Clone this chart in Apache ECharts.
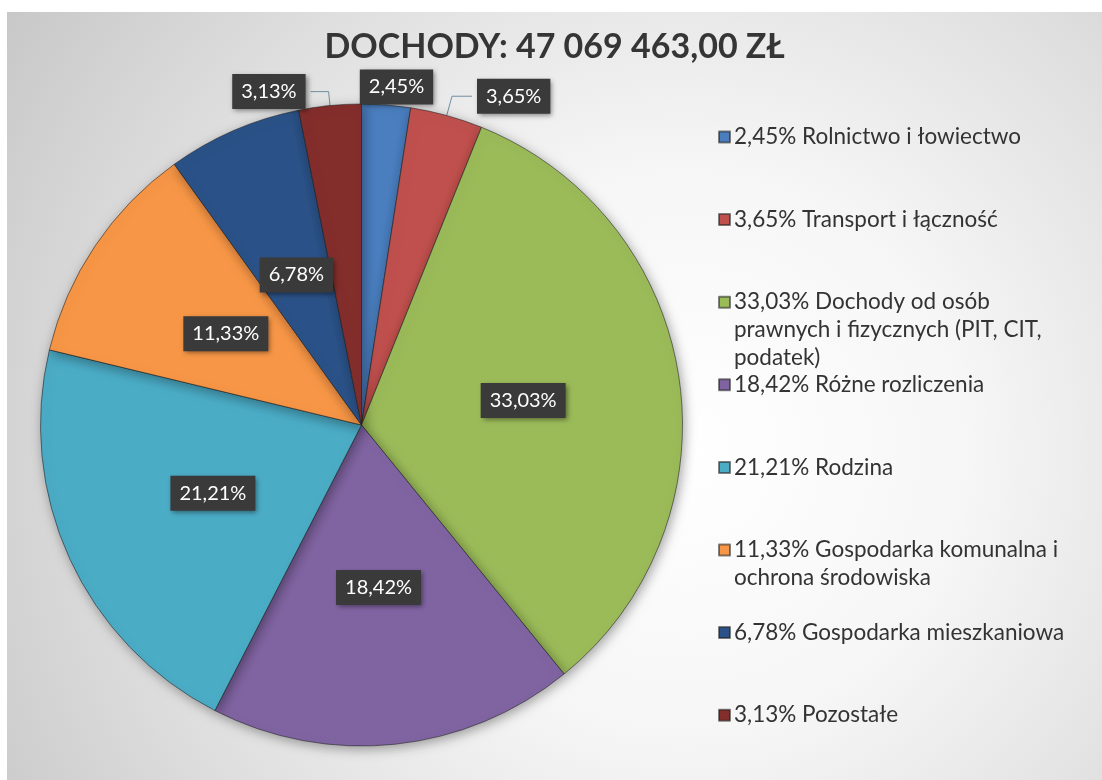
<!DOCTYPE html>
<html>
<head>
<meta charset="utf-8">
<script src="https://cdn.jsdelivr.net/npm/echarts@6/dist/echarts.min.js"></script>
<style>
  html, body { margin: 0; padding: 0; background: #ffffff; }
  #chart { position: absolute; left: 7px; top: 12px; width: 1095px; height: 768px; }
</style>
</head>
<body>
<div id="chart"></div>
<script>
// ---- data ----
const titleText = 'DOCHODY: 47 069 463,00 ZŁ';
const categories = [
  'Rolnictwo i łowiectwo',
  'Transport i łączność',
  'Dochody od osób\nprawnych i fizycznych (PIT, CIT,\npodatek)',
  'Różne rozliczenia',
  'Rodzina',
  'Gospodarka komunalna i\nochrona środowiska',
  'Gospodarka mieszkaniowa',
  'Pozostałe'
];
const values = [2.45, 3.65, 33.03, 18.42, 21.21, 11.33, 6.78, 3.13];
const colors = ['#4a7ebf', '#c0504d', '#9bbb59', '#8064a2', '#4bacc6', '#f79646', '#2b5288', '#842e2c'];
const outsideLabels = [0, 1, 7];

// ---- helpers ----
const fmt = v => v.toFixed(2).replace('.', ',') + '%';
const FONT = 'Lato';
const LH = 28;

const labelBox = {
  color: '#ffffff',
  fontFamily: FONT,
  fontSize: 20,
  backgroundColor: '#3a3a3a',
  padding: [8, 9, 7, 9],
  shadowBlur: 5,
  shadowColor: 'rgba(0,0,0,0.45)',
  shadowOffsetX: 2,
  shadowOffsetY: 2,
  formatter: p => fmt(p.value)
};

const outsideLen = { 0: [8, 0], 1: [20, 20], 7: [14, 18] };
const labelShift = { 0: { dx: -32, dy: -10 } };

const pieData = categories.map((name, i) => {
  const item = { name: name, value: values[i], itemStyle: { color: colors[i] } };
  if (outsideLabels.includes(i)) {
    item.label = { position: 'outside' };
    item.labelLine = { show: true, length: outsideLen[i][0], length2: outsideLen[i][1] };
  }
  return item;
});

const legends = categories.map((name, i) => {
  const n = name.split('\n').length;
  const blanks = n - 1;              // leading blank lines keep the icon on the first line
  const total = n + blanks;
  const center = 125 + i * 82.6;
  return {
    data: [name],
    orient: 'vertical',
    left: 711,
    top: center - total * LH / 2,
    padding: 0,
    icon: 'rect',
    itemWidth: 11,
    itemHeight: 11,
    itemGap: 0,
    selectedMode: false,
    textStyle: { fontFamily: FONT, fontSize: 22.5, color: '#333333', lineHeight: LH, padding: [0, 0, 0, -1] },
    formatter: nm => '\n'.repeat(blanks) + fmt(values[i]) + ' ' + nm
  };
});

const chart = echarts.init(document.getElementById('chart'), null, { renderer: 'canvas' });
chart.setOption({
  animation: false,
  graphic: [{
    type: 'rect', z: -10, silent: true,
    shape: { x: 0, y: 0, width: 1095, height: 768 },
    style: {
      fill: {
        type: 'radial', x: 0.62, y: 0.57, r: 1.05,
        colorStops: [
          { offset: 0, color: '#ffffff' },
          { offset: 0.35, color: '#f6f6f6' },
          { offset: 0.7, color: '#dedede' },
          { offset: 1, color: '#c8c8c8' }
        ]
      }
    }
  }],
  title: {
    text: titleText,
    left: 'center',
    top: 13,
    textStyle: { fontFamily: FONT, fontWeight: 'bold', fontSize: 34, color: '#353535' }
  },
  legend: legends,
  series: [{
    type: 'pie',
    center: [354.5, 413],
    radius: [0, 321],
    startAngle: 90,
    clockwise: true,
    avoidLabelOverlap: false,
    data: pieData,
    itemStyle: {
      borderColor: 'rgba(30,30,30,0.55)',
      borderWidth: 1,
      shadowBlur: 12,
      shadowColor: 'rgba(0,0,0,0.35)',
      shadowOffsetX: 2,
      shadowOffsetY: 3
    },
    label: Object.assign({ show: true, position: 'inside' }, labelBox),
    labelLine: { show: false, lineStyle: { color: '#6f8ea2', width: 1 } },
    labelLayout: p => labelShift[p.dataIndex] || {},
    emphasis: { disabled: true }
  }]
});
</script>
</body>
</html>
